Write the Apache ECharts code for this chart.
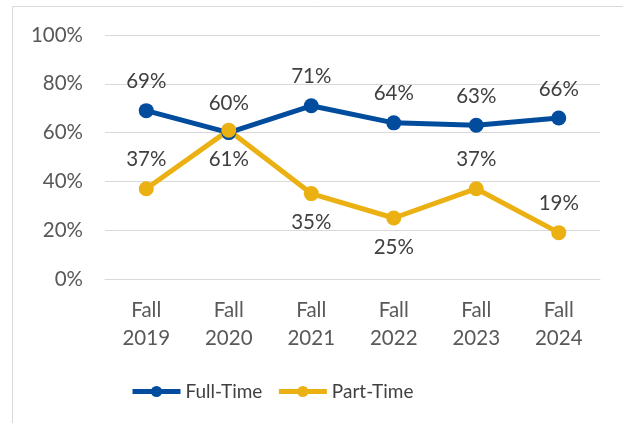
<!DOCTYPE html>
<html><head><meta charset="utf-8">
<script src="https://cdn.jsdelivr.net/npm/echarts@6/dist/echarts.min.js"></script>
<style>html,body{margin:0;padding:0;background:#fff}#c{width:623px;height:423px}</style>
</head><body><div id="c"></div>
<script>
const categories = ['Fall\n2019','Fall\n2020','Fall\n2021','Fall\n2022','Fall\n2023','Fall\n2024'];
const fullTime = [69, 60, 71, 64, 63, 66];
const partTime = [37, 61, 35, 25, 37, 19];
const yTicks = [0, 20, 40, 60, 80, 100];

const ftLabelPos = ['top','top','top','top','top','top'];
const ptLabelPos = ['top','bottom','bottom','bottom','top','top'];

const FONT = 'Lato';
const FS = 20.5;
const chart = echarts.init(document.getElementById('c'));
function items(vals, pos){
  return vals.map((v,i)=>({value:v, label:{position:pos[i]}}));
}
chart.setOption({
  animation:false,
  graphic:[{type:'rect', shape:{x:12.5,y:6.5,width:700,height:600}, style:{fill:'none',stroke:'#d9d9d9',lineWidth:1}}],
  grid:{left:105, right:23, top:35, bottom:144},
  legend:{left:125, top:377, padding:5, itemWidth:48, itemHeight:14, itemGap:14,
    lineStyle:{width:5},
    textStyle:{fontFamily:FONT, fontSize:19, color:'#404040'},
    data:['Full-Time','Part-Time']},
  xAxis:{type:'category', data:categories, boundaryGap:true,
    axisLine:{lineStyle:{color:'#d9d9d9', width:1}}, axisTick:{show:false},
    axisLabel:{fontFamily:FONT, fontSize:FS, color:'#595959', lineHeight:28, margin:17}},
  yAxis:{type:'value', min:yTicks[0], max:yTicks[yTicks.length-1], interval:20,
    axisLine:{show:false}, axisTick:{show:false},
    splitLine:{lineStyle:{color:'#d9d9d9', width:1}},
    axisLabel:{fontFamily:FONT, fontSize:FS, color:'#595959', margin:22, formatter:v=>v+'%'}},
  series:[
    {name:'Full-Time', type:'line', data:items(fullTime, ftLabelPos), symbol:'circle', symbolSize:15,
      itemStyle:{color:'#024c9d'}, lineStyle:{width:5, color:'#024c9d'},
      label:{show:true, distance:11, fontFamily:FONT, fontSize:FS, color:'#404040', formatter:p=>p.value+'%'}},
    {name:'Part-Time', type:'line', data:items(partTime, ptLabelPos), symbol:'circle', symbolSize:15,
      itemStyle:{color:'#ebb012'}, lineStyle:{width:5, color:'#ebb012'},
      label:{show:true, distance:11, fontFamily:FONT, fontSize:FS, color:'#404040', formatter:p=>p.value+'%'}}
  ]
});
</script></body></html>
